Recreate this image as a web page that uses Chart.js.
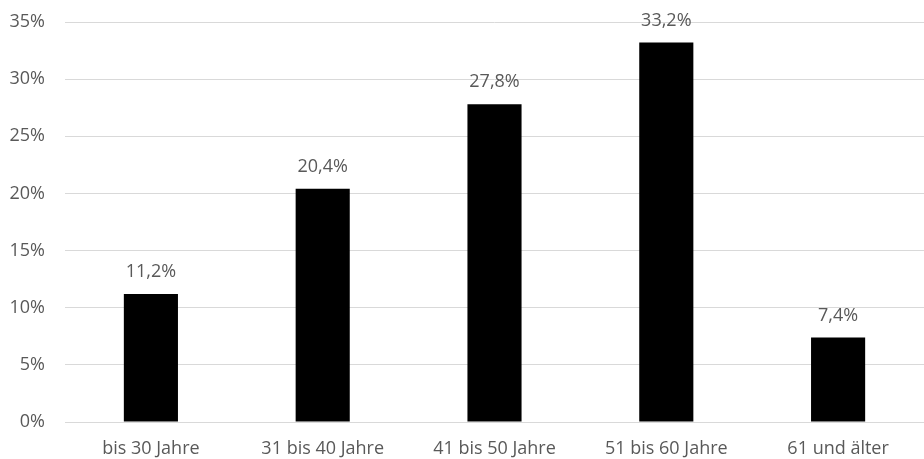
<!DOCTYPE html>
<html>
<head>
<meta charset="utf-8">
<script src="https://cdn.jsdelivr.net/npm/chart.js@4"></script>
<style>
  html, body { margin: 0; padding: 0; background: #fff; }
  #wrap { width: 924px; height: 459px; }
</style>
</head>
<body>
<div id="wrap"><canvas id="ageChart"></canvas></div>
<script>
const ageGroups = ['bis 30 Jahre', '31 bis 40 Jahre', '41 bis 50 Jahre', '51 bis 60 Jahre', '61 und älter'];
const shares = [11.2, 20.4, 27.8, 33.2, 7.4];
const yTicks = [0, 5, 10, 15, 20, 25, 30, 35];

const textColor = '#595959';
const fontFamily = '"Open Sans", "Liberation Sans", sans-serif';
const fontSize = 18;

// value labels above each bar, German decimal comma
const barLabels = {
    id: 'barLabels',
    afterDatasetsDraw(chart) {
        const ctx = chart.ctx;
        ctx.save();
        ctx.fillStyle = textColor;
        ctx.font = fontSize + 'px ' + fontFamily;
        ctx.textAlign = 'center';
        ctx.textBaseline = 'middle';
        chart.getDatasetMeta(0).data.forEach((bar, i) => {
            const txt = shares[i].toFixed(1).replace('.', ',') + '%';
            ctx.fillText(txt, bar.x, bar.y - 22);
        });
        ctx.restore();
    }
};

const ageChart = new Chart(document.getElementById('ageChart').getContext('2d'), {
    type: 'bar',
    data: {
        labels: ageGroups,
        datasets: [{
            data: shares,
            backgroundColor: '#000000',
            borderWidth: 0,
            barPercentage: 0.315,
            categoryPercentage: 1
        }]
    },
    options: {
        responsive: true,
        maintainAspectRatio: false,
        animation: false,
        layout: { padding: { top: 22, right: 0, left: 0, bottom: 0 } },
        plugins: {
            legend: { display: false },
            tooltip: { enabled: false }
        },
        scales: {
            x: {
                grid: { display: false, drawTicks: false },
                border: { color: '#d9d9d9', width: 1 },
                ticks: {
                    color: textColor,
                    font: { family: fontFamily, size: fontSize },
                    padding: 16,
                    maxRotation: 0
                },
                afterFit(scale) {
                    scale.height = 37;
                    scale.paddingLeft = 0;
                    scale.paddingRight = 0;
                }
            },
            y: {
                min: 0,
                max: 35,
                afterBuildTicks(scale) { scale.ticks = yTicks.map(v => ({ value: v })); },
                grid: { color: '#d9d9d9', lineWidth: 1, drawTicks: false },
                border: { display: false },
                ticks: {
                    color: textColor,
                    font: { family: fontFamily, size: fontSize },
                    padding: 20,
                    callback: v => v + '%'
                },
                afterFit(scale) {
                    scale.width = 65;
                    scale.paddingTop = 0;
                    scale.paddingBottom = 0;
                }
            }
        }
    },
    plugins: [barLabels]
});
</script>
</body>
</html>
